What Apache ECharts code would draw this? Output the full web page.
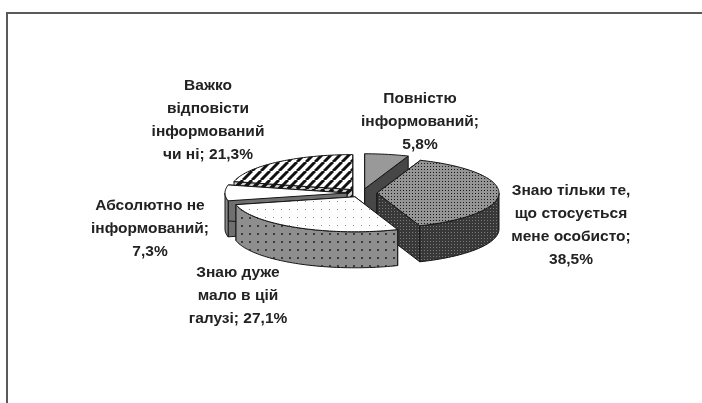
<!DOCTYPE html>
<html>
<head>
<meta charset="utf-8">
<script src="https://cdn.jsdelivr.net/npm/echarts@6/dist/echarts.min.js"></script>
<style>
  html, body { margin: 0; padding: 0; background: #fff; }
  #chart { width: 702px; height: 403px; }
</style>
</head>
<body>
<div id="chart"></div>
<script>
// категорії та відсотки (за годинниковою стрілкою від 12 години)
const categories = [
  "Повністю\nінформований",
  "Знаю тільки те,\nщо стосується\nмене особисто",
  "Знаю дуже\nмало в цій\nгалузі",
  "Абсолютно не\nінформований",
  "Важко\nвідповісти\nінформований\nчи ні",
];
const values = [5.8, 38.5, 27.1, 7.3, 21.3];

// геометрія "3D" круга
const pie = { cx: 362, cy: 193, rx: 122, ry: 35, depth: 36, explode: 15 };
// підписи: центр по x, верх першого рядка
const labelAnchors = [[420, 87], [571, 179], [238, 261], [150, 194], [208, 74]];
const labelSeps = [";\n", ";\n", "; ", ";\n", "; "];

function makePattern(size, bg, draw) {
  const c = document.createElement("canvas");
  c.width = c.height = size;
  const g = c.getContext("2d");
  g.fillStyle = bg;
  g.fillRect(0, 0, size, size);
  if (draw) draw(g);
  return { image: c, repeat: "repeat" };
}

const dots = (color, step, sz) => (g) => {
  g.fillStyle = color;
  for (let x = 0; x < g.canvas.width; x += step)
    for (let y = 0; y < g.canvas.height; y += step) g.fillRect(x + 1, y + 1, sz, sz);
};
const hatch = (color, w) => (g) => {
  const s = g.canvas.width;
  g.strokeStyle = color;
  g.lineWidth = w;
  for (let k = -1; k <= 1; k++) {
    g.beginPath();
    g.moveTo(k * s, s);
    g.lineTo(k * s + s, 0);
    g.stroke();
  }
};

const fills = [
  { top: "#999999", side: "#8c8c8c", wall: "#474747" },
  {
    top: makePattern(3, "#959595", dots("#1a1a1a", 3, 1)),
    side: makePattern(3, "#383838", dots("#7a7a7a", 3, 1)),
    wall: makePattern(3, "#383838", dots("#7a7a7a", 3, 1)),
  },
  {
    top: makePattern(8, "#ffffff", dots("#8a8a8a", 8, 1)),
    side: makePattern(8, "#8e8e8e", dots("#3c3c3c", 8, 2)),
    wall: makePattern(8, "#8e8e8e", dots("#3c3c3c", 8, 2)),
  },
  { top: "#ffffff", side: "#8c8c8c", wall: "#707070" },
  {
    top: makePattern(9, "#ffffff", hatch("#111111", 3)),
    side: makePattern(9, "#d0d0d0", hatch("#111111", 3.5)),
    wall: makePattern(9, "#d0d0d0", hatch("#111111", 3.5)),
  },
];

const total = values.reduce((a, b) => a + b, 0);

function renderItem(params, api) {
  const i = params.dataIndex;
  let start = 0;
  for (let k = 0; k < i; k++) start += values[k];
  const a1 = (start / total) * 2 * Math.PI;
  const a2 = ((start + api.value(0)) / total) * 2 * Math.PI;
  const mid = (a1 + a2) / 2;
  const ox = pie.cx + pie.explode * Math.sin(mid);
  const oy = pie.cy - pie.explode * (pie.ry / pie.rx) * Math.cos(mid);
  const d = pie.depth;
  const pt = (t, dy) => [ox + pie.rx * Math.sin(t), oy - pie.ry * Math.cos(t) + dy];
  const arc = (t1, t2, dy) => {
    const n = Math.max(2, Math.ceil((t2 - t1) / 0.03));
    const pts = [];
    for (let j = 0; j <= n; j++) pts.push(pt(t1 + ((t2 - t1) * j) / n, dy));
    return pts;
  };
  const z = Math.round(50 * (1 - Math.cos(mid))) * 10;
  const f = fills[i];
  const line = { stroke: "#151515", lineWidth: 1, lineJoin: "round" };
  const children = [];

  [a1, a2].forEach((t) => {
    children.push({
      type: "polygon",
      z2: z,
      shape: { points: [[ox, oy], pt(t, 0), pt(t, d), [ox, oy + d]] },
      style: Object.assign({ fill: f.wall }, line),
    });
  });
  const s = Math.max(a1, Math.PI / 2);
  const e = Math.min(a2, 1.5 * Math.PI);
  if (e > s) {
    children.push({
      type: "polygon",
      z2: z + 1,
      shape: { points: arc(s, e, 0).concat(arc(s, e, d).reverse()) },
      style: Object.assign({ fill: f.side }, line),
    });
  }
  children.push({
    type: "polygon",
    z2: z + 2,
    shape: { points: [[ox, oy]].concat(arc(a1, a2, 0)) },
    style: Object.assign({ fill: f.top }, line),
  });

  const txt =
    categories[i] + labelSeps[i] + api.value(0).toFixed(1).replace(".", ",") + "%";
  children.push({
    type: "text",
    z2: 2000,
    style: {
      text: txt,
      x: labelAnchors[i][0],
      y: labelAnchors[i][1],
      align: "center",
      verticalAlign: "top",
      font: 'bold 15.5px "Liberation Sans", Arial, sans-serif',
      lineHeight: 23,
      fill: "#222",
    },
  });

  return { type: "group", children: children };
}

const chart = echarts.init(document.getElementById("chart"));
chart.setOption({
  animation: false,
  backgroundColor: "#fff",
  graphic: [
    { type: "line", shape: { x1: 6, y1: 13, x2: 702, y2: 13 }, style: { stroke: "#5a5a5a", lineWidth: 2 } },
    { type: "line", shape: { x1: 7, y1: 13, x2: 7, y2: 403 }, style: { stroke: "#5a5a5a", lineWidth: 2 } },
  ],
  series: [
    {
      type: "custom",
      coordinateSystem: "none",
      silent: true,
      renderItem: renderItem,
      data: values.map((v) => [v]),
    },
  ],
});
</script>
</body>
</html>
